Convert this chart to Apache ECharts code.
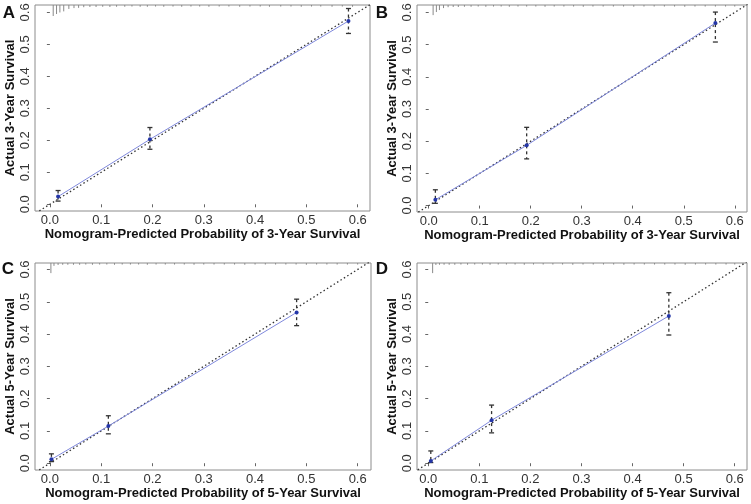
<!DOCTYPE html>
<html lang="en">
<head>
    <meta charset="UTF-8">
    <title>Calibration curves</title>
    <script src="https://cdn.jsdelivr.net/npm/echarts@6/dist/echarts.min.js"></script>
    <style>
        html, body { margin: 0; padding: 0; background: #fff; }
        #main { width: 751px; height: 504px; }
    </style>
</head>
<body>
<div id="main"></div>
<script>
    // tick labels shared by all four panels
    var ticks = [0, 0.1, 0.2, 0.3, 0.4, 0.5, 0.6];
    var idealLine = [-0.1, 0.7];

    // A: 3-year, training cohort
    var predA = [0.016, 0.195, 0.582];
    var obsA  = [0.024, 0.203, 0.573];
    var lowA  = [0.010, 0.172, 0.534];
    var highA = [0.043, 0.240, 0.612];
    var rugXA = [0.0065, 0.013, 0.0195, 0.027, 0.037, 0.047, 0.056, 0.066, 0.078, 0.09, 0.103, 0.117, 0.13, 0.146, 0.16, 0.176, 0.19, 0.206, 0.222, 0.24, 0.257, 0.275, 0.292, 0.31, 0.33, 0.349, 0.37, 0.39, 0.41, 0.428, 0.45, 0.47, 0.49, 0.51, 0.528, 0.55, 0.57, 0.59];
    var rugNA = [50, 41, 34, 29, 18, 14, 13, 10, 9, 9, 8, 9, 8, 8, 7, 8, 8, 7, 8, 7, 8, 7, 7, 8, 7, 7, 8, 7, 7, 8, 7, 7, 8, 7, 7, 8, 7, 8];

    // B: 3-year, validation cohort
    var predB = [0.013, 0.192, 0.562];
    var obsB  = [0.018, 0.187, 0.567];
    var lowB  = [0.007, 0.145, 0.508];
    var highB = [0.049, 0.243, 0.601];
    var rugXB = [0.0086, 0.015, 0.021, 0.029, 0.038, 0.048, 0.058, 0.07, 0.083, 0.097, 0.112, 0.127, 0.142, 0.158, 0.175, 0.192, 0.21, 0.228, 0.246, 0.265, 0.284, 0.303, 0.322, 0.342, 0.362, 0.382, 0.402, 0.422, 0.442, 0.462, 0.482, 0.502, 0.522, 0.542, 0.562, 0.582, 0.6];
    var rugNB = [46, 32, 23, 14, 10, 9, 9, 8, 8, 7, 8, 7, 7, 8, 7, 7, 7, 8, 7, 7, 7, 8, 7, 7, 7, 7, 8, 7, 7, 7, 7, 8, 7, 7, 7, 7, 7];

    // C: 5-year, training cohort
    var predC = [0.003, 0.114, 0.481];
    var obsC  = [0.012, 0.115, 0.467];
    var lowC  = [0.005, 0.091, 0.426];
    var highC = [0.029, 0.147, 0.508];
    var rugXC = [0.002, 0.008, 0.016, 0.025, 0.035, 0.046, 0.058, 0.07, 0.083, 0.097, 0.111, 0.126, 0.141, 0.157, 0.173, 0.19, 0.207, 0.225, 0.243, 0.262, 0.281, 0.3, 0.32, 0.34, 0.36, 0.38, 0.4, 0.42, 0.44, 0.46, 0.48, 0.5, 0.52, 0.54, 0.56, 0.58, 0.6];
    var rugNC = [46, 13, 9, 8, 8, 8, 8, 7, 8, 7, 7, 8, 7, 7, 7, 8, 7, 7, 7, 7, 8, 7, 7, 7, 7, 8, 7, 7, 7, 7, 7, 8, 7, 7, 7, 7, 7];

    // D: 5-year, validation cohort
    var predD = [0.005, 0.124, 0.471];
    var obsD  = [0.007, 0.133, 0.456];
    var lowD  = [0.002, 0.094, 0.397];
    var highD = [0.038, 0.180, 0.528];
    var rugXD = [0.0086, 0.015, 0.022, 0.031, 0.041, 0.052, 0.064, 0.077, 0.091, 0.106, 0.121, 0.137, 0.153, 0.17, 0.188, 0.206, 0.225, 0.244, 0.263, 0.283, 0.303, 0.323, 0.343, 0.363, 0.383, 0.403, 0.423, 0.443, 0.463, 0.483, 0.503, 0.523, 0.543, 0.563, 0.583, 0.6];
    var rugND = [46, 9, 8, 8, 8, 8, 7, 8, 7, 7, 8, 7, 7, 7, 8, 7, 7, 7, 7, 8, 7, 7, 7, 7, 8, 7, 7, 7, 7, 7, 8, 7, 7, 7, 7, 7];

    var FONT = 'Liberation Sans, Arial, Helvetica, sans-serif';
    var RUG_PX = 0.22;   // pixels per count for the spike histogram

    var panels = [
        {tag: 'A', years: 3, pred: predA, obs: obsA, low: lowA, high: highA, rugX: rugXA, rugN: rugNA,
            grid: {left: 35, top: 5, width: 335, height: 206}, x: [-0.029, 0.624], y: [-0.021, 0.623], tagPos: [9, 13]},
        {tag: 'B', years: 3, pred: predB, obs: obsB, low: lowB, high: highB, rugX: rugXB, rugN: rugNB,
            grid: {left: 417, top: 5, width: 330, height: 207}, x: [-0.023, 0.624], y: [-0.020, 0.623], tagPos: [382, 13]},
        {tag: 'C', years: 5, pred: predC, obs: obsC, low: lowC, high: highC, rugX: rugXC, rugN: rugNC,
            grid: {left: 35, top: 263, width: 336, height: 207}, x: [-0.029, 0.626], y: [-0.021, 0.620], tagPos: [8, 269]},
        {tag: 'D', years: 5, pred: predD, obs: obsD, low: lowD, high: highD, rugX: rugXD, rugN: rugND,
            grid: {left: 417, top: 263, width: 330, height: 207}, x: [-0.022, 0.624], y: [-0.021, 0.620], tagPos: [382, 269]}
    ];

    function renderRug(params, api) {
        var cs = params.coordSys;
        var p = api.coord([api.value(0), 0]);
        var len = api.value(1) * RUG_PX;
        return {
            type: 'line',
            shape: {x1: p[0], y1: cs.y, x2: p[0], y2: cs.y + len},
            style: {stroke: '#8a8a8a', lineWidth: 1}
        };
    }

    function renderErr(params, api) {
        var top = api.coord([api.value(0), api.value(2)]);
        var bot = api.coord([api.value(0), api.value(1)]);
        var cap = 2.5;
        var st = {stroke: '#333', lineWidth: 1.3};
        return {
            type: 'group',
            children: [
                {type: 'line', shape: {x1: top[0], y1: top[1], x2: bot[0], y2: bot[1]},
                    style: {stroke: '#333', lineWidth: 1.3, lineDash: [3, 3]}},
                {type: 'line', shape: {x1: top[0] - cap, y1: top[1], x2: top[0] + cap, y2: top[1]}, style: st},
                {type: 'line', shape: {x1: bot[0] - cap, y1: bot[1], x2: bot[0] + cap, y2: bot[1]}, style: st}
            ]
        };
    }

    var grids = [], xAxes = [], yAxes = [], series = [], graphics = [];

    panels.forEach(function (pn, i) {
        grids.push(Object.assign({show: true, borderColor: '#8c8c8c', borderWidth: 1, backgroundColor: 'transparent'}, pn.grid));
        xAxes.push({
            type: 'value', gridIndex: i, min: pn.x[0], max: pn.x[1],
            name: 'Nomogram-Predicted Probability of ' + pn.years + '-Year Survival',
            nameLocation: 'middle', nameGap: 12,
            nameTextStyle: {fontFamily: FONT, fontSize: 13, fontWeight: 'bold', color: '#111'},
            axisLine: {show: false},
            axisTick: {show: true, length: 3, customValues: ticks, lineStyle: {color: '#666'}},
            axisLabel: {customValues: ticks, margin: 3, fontFamily: FONT, fontSize: 13, color: '#333',
                formatter: function (v) { return v.toFixed(1); }},
            splitLine: {show: false}
        });
        yAxes.push({
            type: 'value', gridIndex: i, min: pn.y[0], max: pn.y[1],
            name: 'Actual ' + pn.years + '-Year Survival',
            nameLocation: 'middle', nameGap: 18, nameRotate: 90,
            nameTextStyle: {fontFamily: FONT, fontSize: 13, fontWeight: 'bold', color: '#111'},
            axisLine: {show: false},
            axisTick: {show: true, length: 3, customValues: ticks, lineStyle: {color: '#666'}},
            axisLabel: {customValues: ticks, rotate: 90, margin: 3, fontFamily: FONT, fontSize: 13, color: '#333',
                formatter: function (v) { return v.toFixed(1); }},
            splitLine: {show: false}
        });

        // ideal 45-degree reference
        series.push({
            type: 'line', xAxisIndex: i, yAxisIndex: i, symbol: 'none', silent: true, clip: true,
            data: idealLine.map(function (v) { return [v, v]; }),
            lineStyle: {color: '#333', width: 1.3, type: [1.5, 2.5]}
        });
        // spike histogram of predictions along top
        series.push({
            type: 'custom', xAxisIndex: i, yAxisIndex: i, silent: true,
            data: pn.rugX.map(function (v, k) { return [v, pn.rugN[k]]; }),
            renderItem: renderRug
        });
        // error bars
        series.push({
            type: 'custom', xAxisIndex: i, yAxisIndex: i, silent: true, z: 3,
            data: pn.pred.map(function (v, k) { return [v, pn.low[k], pn.high[k]]; }),
            renderItem: renderErr
        });
        // observed vs predicted
        series.push({
            type: 'line', xAxisIndex: i, yAxisIndex: i, z: 4,
            data: pn.pred.map(function (v, k) { return [v, pn.obs[k]]; }),
            lineStyle: {color: '#7f88dc', width: 1},
            symbol: 'circle', symbolSize: 4,
            itemStyle: {color: '#2436a8'}
        });

        graphics.push({
            type: 'text', x: pn.tagPos[0], y: pn.tagPos[1],
            style: {text: pn.tag, font: 'bold 17px ' + FONT, fill: '#111', textAlign: 'center', textVerticalAlign: 'middle'}
        });
    });

    var myChart = echarts.init(document.getElementById('main'), null, {renderer: 'canvas'});
    myChart.setOption({
        animation: false,
        grid: grids,
        xAxis: xAxes,
        yAxis: yAxes,
        series: series,
        graphic: graphics
    });
</script>
</body>
</html>
